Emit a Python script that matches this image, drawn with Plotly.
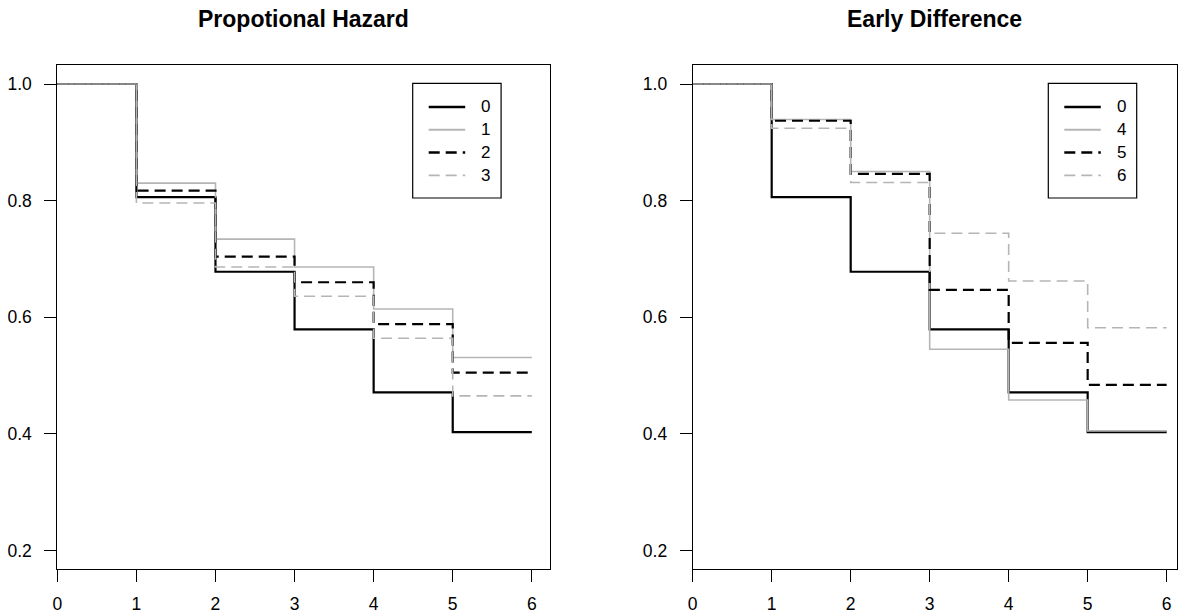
import plotly.graph_objects as go

# ---- data ----
times = [0, 1, 2, 3, 4, 5, 6]
s0 = [1.0, 0.806, 0.678, 0.579, 0.471, 0.403, 0.403]
s1 = [1.0, 0.830, 0.734, 0.686, 0.614, 0.531, 0.531]
s2 = [1.0, 0.817, 0.704, 0.660, 0.588, 0.505, 0.505]
s3 = [1.0, 0.796, 0.686, 0.636, 0.564, 0.465, 0.465]
s4 = [1.0, 0.939, 0.850, 0.545, 0.458, 0.405, 0.405]
s5 = [1.0, 0.937, 0.846, 0.647, 0.556, 0.484, 0.484]
s6 = [1.0, 0.924, 0.831, 0.744, 0.662, 0.582, 0.582]

left_names = ["0", "1", "2", "3"]
right_names = ["0", "4", "5", "6"]
titles = ["Propotional Hazard", "Early Difference"]
x_ticks = [0, 1, 2, 3, 4, 5, 6]
y_ticks = [0.2, 0.4, 0.6, 0.8, 1.0]
y_ticktext = ["0.2", "0.4", "0.6", "0.8", "1.0"]

# ---- styles ----
GREY = "#b5b5b5"
DASH = "11px,6px"
styles = [
    dict(color="black", width=2.2, dash="solid"),
    dict(color=GREY, width=1.6, dash="solid"),
    dict(color="black", width=2.2, dash=DASH),
    dict(color=GREY, width=1.6, dash=DASH),
]

W, H = 1189, 615
OFF = 0  # body margin removed by post_script below
FONT = "Liberation Sans, Arial, sans-serif"


def px_x(p):
    return (p - OFF) / W


def px_y(p):
    return (H - (p - OFF)) / H


fig = go.Figure()

left_series = [s0, s1, s2, s3]
right_series = [s0, s4, s5, s6]

for ys, name, st in zip(left_series, left_names, styles):
    fig.add_trace(go.Scatter(x=times, y=ys, name=name, mode="lines",
                             line=dict(shape="hv", **st), showlegend=False,
                             xaxis="x", yaxis="y"))
for ys, name, st in zip(right_series, right_names, styles):
    fig.add_trace(go.Scatter(x=times, y=ys, name=name, mode="lines",
                             line=dict(shape="hv", **st), showlegend=False,
                             xaxis="x2", yaxis="y2"))

ydom = [px_y(569.3), px_y(65)]
axis_common = dict(showline=True, mirror=True, linecolor="black", linewidth=1,
                   ticks="outside", ticklen=12, tickwidth=1, tickcolor="black",
                   showgrid=False, zeroline=False,
                   tickfont=dict(family=FONT, size=17.5, color="black"))

fig.update_layout(
    width=W, height=H,
    margin=dict(l=0, r=0, t=0, b=0, autoexpand=False),
    paper_bgcolor="white", plot_bgcolor="white",
    font=dict(family=FONT, color="black"),
    xaxis=dict(domain=[px_x(57.3), px_x(550)], range=[0, 6.23],
               tickvals=x_ticks, ticklabelstandoff=7, **axis_common),
    yaxis=dict(domain=ydom, range=[0.1676, 1.0326], anchor="x",
               tickvals=y_ticks, ticktext=y_ticktext, ticklabelstandoff=9,
               **axis_common),
    xaxis2=dict(domain=[px_x(692.7), px_x(1176.7)], range=[0, 6.127],
                tickvals=x_ticks, ticklabelstandoff=7, anchor="y2", **axis_common),
    yaxis2=dict(domain=ydom, range=[0.1676, 1.0326], anchor="x2",
                tickvals=y_ticks, ticktext=y_ticktext, ticklabelstandoff=9,
                **axis_common),
    showlegend=False,
)

# titles
for title, cx in zip(titles, [303.6, 934.7]):
    fig.add_annotation(text="<b>%s</b>" % title, xref="paper", yref="paper",
                       x=px_x(cx), y=px_y(19), xanchor="center", yanchor="middle",
                       showarrow=False, font=dict(family=FONT, size=23, color="black"))

# legends (boxed keys, R style)
ROW0, ROWH = 23.7, 22.8
for box_left, names in [(412.7, left_names), (1048.3, right_names)]:
    top = 83.3
    fig.add_shape(type="rect", xref="paper", yref="paper",
                  x0=px_x(box_left), x1=px_x(box_left + 88.4),
                  y0=px_y(top + 114.7), y1=px_y(top),
                  line=dict(color="black", width=1.2), fillcolor="white", layer="above")
    for i, (name, st) in enumerate(zip(names, styles)):
        yy = top + ROW0 + ROWH * i
        fig.add_shape(type="line", xref="paper", yref="paper",
                      x0=px_x(box_left + 16), x1=px_x(box_left + 52.5),
                      y0=px_y(yy), y1=px_y(yy),
                      line=dict(color=st["color"], width=st["width"] + 0.3,
                                dash=st["dash"]), layer="above")
        fig.add_annotation(text=name, xref="paper", yref="paper",
                           x=px_x(box_left + 73), y=px_y(yy), xanchor="center",
                           yanchor="middle", showarrow=False,
                           font=dict(family=FONT, size=17, color="black"))

fig.write_html("out.html",
               config={"displayModeBar": False},
               post_script="document.body.style.margin='0px';")
